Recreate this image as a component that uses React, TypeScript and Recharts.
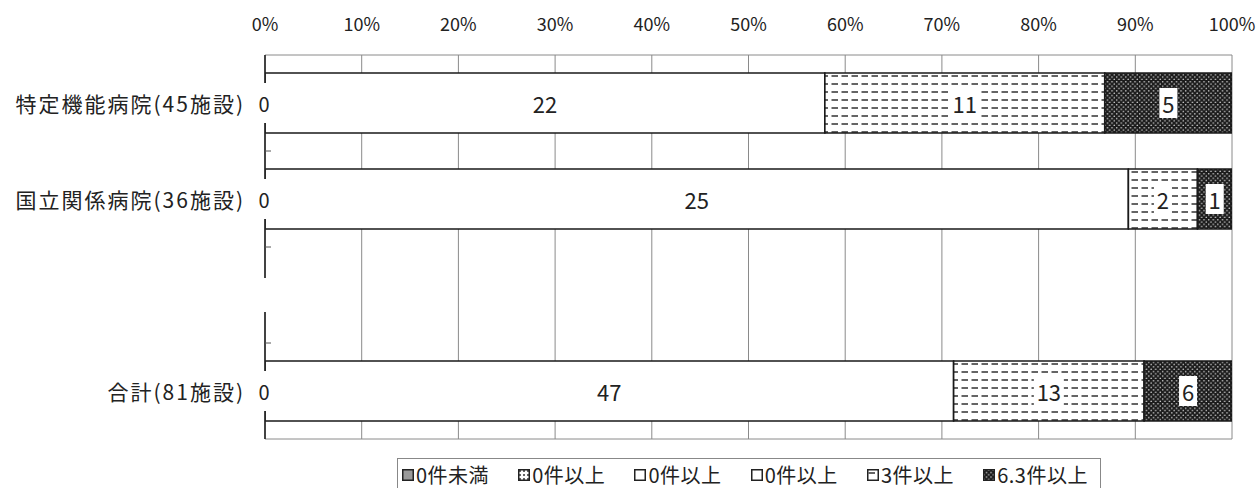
import React from 'react';
import { BarChart, Bar, XAxis, YAxis, CartesianGrid, Legend, LabelList } from 'recharts';

const categories = ['特定機能病院(45施設)', '国立関係病院(36施設)', '', '合計(81施設)'];
const under0 = [0, 0, null, 0];
const over0a = [0, 0, null, 0];
const over0b = [0, 0, null, 0];
const over0c = [22, 25, null, 47];
const over3 = [11, 2, null, 13];
const over63 = [5, 1, null, 6];
const seriesNames = ['0件未満', '0件以上', '0件以上', '0件以上', '3件以上', '6.3件以上'];
const seriesKeys = ['s1', 's2', 's3', 's4', 's5', 's6'];
const seriesFills = ['#9a9a9a', 'url(#pGrid)', '#ffffff', '#ffffff', 'url(#pDash)', 'url(#pDots)'];
const xTicks = [0, 0.1, 0.2, 0.3, 0.4, 0.5, 0.6, 0.7, 0.8, 0.9, 1];

const data = categories.map((c, i) => ({
  name: c,
  s1: under0[i],
  s2: over0a[i],
  s3: over0b[i],
  s4: over0c[i],
  s5: over3[i],
  s6: over63[i],
}));

const FONT = '"Noto Sans CJK JP", "Noto Sans", sans-serif';
const HALF_BAND = 48;
const TICK_GAP = 20;

const CatTick = (props: any) => {
  const { x, y, payload, index } = props;
  const ax = Number(x) + TICK_GAP;
  return (
    <g>
      {index > 0 && (
        <line x1={ax} x2={ax + 6} y1={y - HALF_BAND} y2={y - HALF_BAND} stroke="#555" strokeWidth={1} />
      )}
      {payload.value === '' && <rect x={ax - 3} y={y - 17} width={6} height={34} fill="#fff" />}
      <text x={x} y={y} textAnchor="end" dominantBaseline="central" fontSize={21} fill="#222"
        style={{ letterSpacing: '2px', fontFamily: FONT }}>
        {payload.value}
      </text>
    </g>
  );
};

const PctTick = (props: any) => {
  const { x, y, payload } = props;
  return (
    <text x={x} y={y} textAnchor="middle" fontSize={18} fill="#222" style={{ fontFamily: FONT }}>
      {`${Math.round(payload.value * 100)}%`}
    </text>
  );
};

const rowIndexOf = (props: any) => {
  const name = props?.payload?.name;
  if (typeof name === 'string') {
    const k = categories.indexOf(name);
    if (k >= 0) return k;
  }
  const k2 = over0c.indexOf(props.value);
  return k2 >= 0 ? k2 : props.index;
};

const makeLabel = (withBg: boolean, fontSize: number, withZero: boolean) => (props: any) => {
  const { x, y, width, height, value } = props;
  if (isNaN(Number(x)) || isNaN(Number(y))) return null;
  const cx = Number(x) + Number(width) / 2;
  const cy = Number(y) + Number(height) / 2;
  const z = withZero ? under0[rowIndexOf(props)] : null;
  const zeroPart = withZero ? (
    <g>
      <rect x={Number(x) - 7} y={cy - 20} width={14} height={40} fill="#fff" />
      {z !== null && z !== undefined && (
        <text x={Number(x) - 1} y={cy} textAnchor="middle" dominantBaseline="central" fontSize={20} fill="#222"
          style={{ fontFamily: FONT }}>
          {String(z)}
        </text>
      )}
    </g>
  ) : null;
  if (value === null || value === undefined) return zeroPart;
  const s = String(value);
  const w = s.length * 12 + 6;
  return (
    <g>
      {zeroPart}
      {withBg && <rect x={cx - w / 2} y={cy - 15} width={w} height={30} fill="#fff" />}
      <text x={cx} y={cy} textAnchor="middle" dominantBaseline="central" fontSize={fontSize} fill="#222"
        style={{ fontFamily: FONT }}>
        {s}
      </text>
    </g>
  );
};

const LegendContent = () => (
  <div
    style={{
      boxSizing: 'border-box',
      height: 30,
      width: 704,
      border: '1px solid #888',
      borderBottom: 'none',
      display: 'flex',
      alignItems: 'center',
      justifyContent: 'space-between',
      padding: '2px 12px 0 4px',
      fontFamily: FONT,
      fontSize: 20,
      letterSpacing: '0.5px',
      color: '#222',
      background: '#fff',
    }}
  >
    {seriesNames.map((n, i) => (
      <span key={i} style={{ display: 'flex', alignItems: 'center', whiteSpace: 'nowrap' }}>
        <svg width={12} height={12} style={{ marginRight: 2 }}>
          <rect x={0.75} y={0.75} width={10.5} height={10.5} fill={seriesFills[i]} stroke="#222" strokeWidth={1.5} />
        </svg>
        {n}
      </span>
    ))}
  </div>
);

export default function App() {
  return (
    <div style={{ position: 'absolute', left: 0, top: 0, width: 1258, height: 488, background: '#fff', fontFamily: FONT }}>
      <BarChart
        width={1258}
        height={488}
        data={data}
        layout="vertical"
        stackOffset="expand"
        barSize={60}
        margin={{ top: 25, right: 26, left: 0, bottom: 19 }}
      >
        <defs>
          <pattern id="pDash" width={10} height={8} patternUnits="userSpaceOnUse">
            <rect width={10} height={8} fill="#fff" />
            <line x1={1.5} y1={4} x2={8} y2={4} stroke="#222" strokeWidth={1.4} />
          </pattern>
          <pattern id="pDots" width={4.6} height={4.6} patternUnits="userSpaceOnUse">
            <rect width={4.6} height={4.6} fill="#1c1c1c" />
            <circle cx={1.15} cy={1.15} r={0.8} fill="#d8d8d8" />
            <circle cx={3.45} cy={3.45} r={0.8} fill="#d8d8d8" />
          </pattern>
          <pattern id="pGrid" width={4} height={4} patternUnits="userSpaceOnUse">
            <rect width={4} height={4} fill="#fff" />
            <rect x={1} y={1} width={2} height={2} fill="#666" />
          </pattern>
        </defs>
        <CartesianGrid
          stroke="#8a8a8a"
          strokeWidth={1}
          horizontalCoordinatesGenerator={({ offset }: any) => [offset.top, offset.top + offset.height]}
        />
        <XAxis
          type="number"
          orientation="top"
          domain={[0, 1]}
          ticks={xTicks}
          allowDataOverflow
          axisLine={false}
          tickLine={false}
          tickSize={0}
          tickMargin={24}
          height={30}
          tick={<PctTick />}
        />
        <YAxis
          type="category"
          dataKey="name"
          width={265}
          axisLine={{ stroke: '#222', strokeWidth: 1.6 }}
          tickLine={false}
          tickSize={0}
          tickMargin={TICK_GAP}
          tick={<CatTick />}
          interval={0}
        />
        <Legend
          verticalAlign="bottom"
          content={<LegendContent />}
          wrapperStyle={{ left: 397, top: 458, bottom: 'auto', width: 704, height: 30 }}
        />
        {seriesKeys.map((k, i) => (
          <Bar
            key={k}
            dataKey={k}
            name={seriesNames[i]}
            stackId="a"
            fill={seriesFills[i]}
            stroke="#1a1a1a"
            strokeWidth={1.6}
            isAnimationActive={false}
          >
            {i === 3 && <LabelList dataKey={k} content={makeLabel(false, 22, true)} />}
            {i >= 4 && <LabelList dataKey={k} content={makeLabel(true, 22, false)} />}
          </Bar>
        ))}
      </BarChart>
    </div>
  );
}
